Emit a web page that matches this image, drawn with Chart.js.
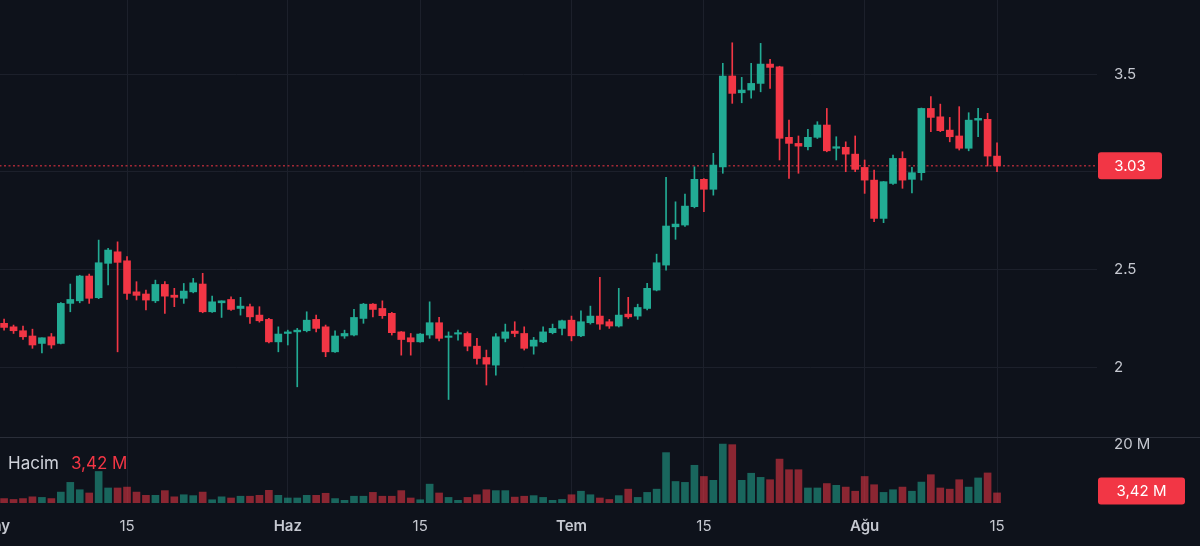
<!DOCTYPE html>
<html>
<head>
<meta charset="utf-8">
<script src="https://cdn.jsdelivr.net/npm/chart.js@4.4.1/dist/chart.umd.min.js"></script>
<style>
  html, body { margin: 0; padding: 0; background: #0e121b; width: 1200px; height: 546px; overflow: hidden; position: relative; }
  canvas { position: absolute; left: -50px; }
  #priceChart { top: 0; }
  #volChart { top: 437px; }
  #sep { position: absolute; left: 0; top: 437px; width: 1200px; height: 1px; background: #2a2e39; }
</style>
</head>
<body>
<canvas id="priceChart" width="1250" height="437"></canvas>
<canvas id="volChart" width="1250" height="109"></canvas>
<div id="sep"></div>
<script>
// daily candles, 2 May .. 15 Aug
const opens = [
  2.224, 2.206, 2.186, 2.159, 2.121, 2.155, 2.121, 2.326, 2.339, 2.466, 2.355, 2.531, 2.590, 2.544, 2.385,
  2.374, 2.339, 2.423, 2.368, 2.352, 2.385, 2.425, 2.283, 2.329, 2.346, 2.300, 2.309, 2.266, 2.244, 2.129,
  2.172, 2.180, 2.186, 2.244, 2.206, 2.078, 2.159, 2.164, 2.249, 2.322, 2.300, 2.275, 2.180, 2.150, 2.129,
  2.164, 2.227, 2.152, 2.169, 2.172, 2.107, 2.049, 2.010, 2.147, 2.184, 2.172, 2.107, 2.129, 2.176, 2.198,
  2.240, 2.160, 2.227, 2.261, 2.232, 2.210, 2.271, 2.261, 2.300, 2.394, 2.522, 2.718, 2.727, 2.821, 2.961,
  2.910, 3.025, 3.490, 3.404, 3.418, 3.452, 3.551, 3.537, 3.176, 3.145, 3.128, 3.176, 3.239, 3.120, 3.125,
  3.090, 3.022, 2.957, 2.761, 2.940, 3.068, 2.961, 2.995, 3.324, 3.281, 3.213, 3.183, 3.120, 3.264, 3.268,
  3.080
];
const highs = [
  2.246, 2.215, 2.210, 2.194, 2.150, 2.172, 2.330, 2.425, 2.470, 2.476, 2.650, 2.608, 2.641, 2.565, 2.437,
  2.394, 2.445, 2.437, 2.403, 2.428, 2.454, 2.480, 2.363, 2.339, 2.360, 2.357, 2.322, 2.309, 2.249, 2.206,
  2.189, 2.198, 2.283, 2.266, 2.215, 2.186, 2.189, 2.295, 2.326, 2.325, 2.339, 2.280, 2.182, 2.172, 2.172,
  2.334, 2.254, 2.180, 2.189, 2.180, 2.147, 2.087, 2.172, 2.220, 2.232, 2.206, 2.152, 2.206, 2.220, 2.240,
  2.261, 2.288, 2.312, 2.459, 2.244, 2.403, 2.357, 2.322, 2.428, 2.578, 2.971, 2.846, 2.886, 3.025, 2.965,
  3.094, 3.555, 3.660, 3.483, 3.555, 3.657, 3.575, 3.540, 3.264, 3.183, 3.217, 3.256, 3.324, 3.179, 3.153,
  3.183, 3.060, 3.008, 2.950, 3.085, 3.102, 3.022, 3.326, 3.384, 3.346, 3.278, 3.333, 3.302, 3.324, 3.299,
  3.148
];
const lows = [
  2.189, 2.172, 2.142, 2.096, 2.073, 2.096, 2.118, 2.283, 2.329, 2.326, 2.350, 2.420, 2.078, 2.346, 2.343,
  2.292, 2.330, 2.275, 2.309, 2.326, 2.380, 2.278, 2.280, 2.254, 2.290, 2.266, 2.224, 2.230, 2.124, 2.078,
  2.113, 1.899, 2.180, 2.180, 2.053, 2.075, 2.147, 2.160, 2.224, 2.257, 2.249, 2.164, 2.061, 2.061, 2.127,
  2.147, 2.134, 1.834, 2.138, 2.083, 2.015, 1.908, 1.959, 2.129, 2.155, 2.087, 2.066, 2.125, 2.170, 2.164,
  2.134, 2.155, 2.220, 2.193, 2.198, 2.205, 2.249, 2.244, 2.292, 2.390, 2.496, 2.654, 2.720, 2.815, 2.795,
  2.880, 2.992, 3.350, 3.353, 3.376, 3.409, 3.427, 3.060, 2.966, 2.992, 3.111, 3.170, 3.102, 3.060, 3.000,
  3.000, 2.889, 2.744, 2.739, 2.935, 2.915, 2.892, 2.957, 3.205, 3.205, 3.153, 3.111, 3.107, 3.179, 3.029,
  3.000
];
const closes = [
  2.203, 2.186, 2.155, 2.113, 2.150, 2.113, 2.326, 2.346, 2.466, 2.352, 2.534, 2.599, 2.536, 2.377, 2.367,
  2.343, 2.423, 2.363, 2.357, 2.389, 2.431, 2.283, 2.334, 2.339, 2.295, 2.312, 2.257, 2.237, 2.129, 2.169,
  2.180, 2.189, 2.240, 2.198, 2.078, 2.159, 2.172, 2.254, 2.322, 2.295, 2.263, 2.176, 2.141, 2.129, 2.169,
  2.227, 2.147, 2.159, 2.176, 2.107, 2.044, 2.015, 2.155, 2.180, 2.172, 2.096, 2.138, 2.180, 2.198, 2.237,
  2.160, 2.232, 2.261, 2.220, 2.210, 2.266, 2.257, 2.305, 2.403, 2.534, 2.722, 2.732, 2.824, 2.961, 2.910,
  3.034, 3.490, 3.401, 3.418, 3.452, 3.551, 3.534, 3.171, 3.145, 3.131, 3.176, 3.239, 3.107, 3.128, 3.090,
  3.012, 2.957, 2.761, 2.949, 3.068, 2.957, 2.995, 3.324, 3.278, 3.210, 3.179, 3.120, 3.264, 3.273, 3.080,
  3.030
];
// volume, millions
const volumes = [
  1.5, 1.2, 1.5, 2.1, 1.9, 1.5, 3.7, 7.0, 4.5, 3.4, 10.7, 5.1, 5.1, 5.4, 3.7,
  2.6, 2.6, 4.2, 2.1, 2.8, 2.5, 3.7, 1.1, 2.1, 1.7, 2.3, 2.3, 2.6, 4.3, 2.6,
  1.7, 1.7, 2.6, 2.6, 3.3, 1.5, 0.9, 2.3, 2.3, 3.6, 2.3, 2.3, 4.2, 1.7, 1.1,
  6.4, 3.4, 1.9, 0.9, 1.9, 2.8, 4.5, 4.2, 4.2, 2.0, 2.3, 2.5, 1.9, 0.9, 1.2,
  2.8, 4.0, 2.8, 1.7, 1.2, 2.5, 4.7, 1.9, 3.6, 4.7, 17.1, 7.3, 7.0, 12.8, 9.0,
  7.7, 20.0, 19.8, 7.7, 10.1, 8.7, 7.9, 14.9, 11.3, 11.3, 5.1, 5.1, 6.6, 6.0, 5.4,
  4.0, 9.0, 6.2, 3.6, 4.5, 5.4, 4.0, 7.1, 9.6, 5.1, 4.7, 7.9, 5.4, 8.5, 10.2,
  3.42
];
// day number counted from 1 May
const days = opens.map((_, i) => i + 1);
const tickDays = [0, 14, 31, 45, 61, 75, 92, 106];
const tickLabels = ['May', '15', 'Haz', '15', 'Tem', '15', 'Ağu', '15'];
const priceTicks = [2, 2.5, 3, 3.5];
const volTicks = [20];

const UP = '#22ab94', DOWN = '#f23645';
const UP_VOL = 'rgba(34,171,148,0.55)', DOWN_VOL = 'rgba(242,54,69,0.55)';
const GRID = '#1c202b', TEXT = '#c5c8d0';
const X_MIN = -4.72, X_MAX = 116.57;

Chart.defaults.font.family = 'Inter, "Noto Sans", sans-serif';
Chart.defaults.font.size = 15;
Chart.defaults.color = TEXT;
Chart.defaults.animation = false;
Chart.defaults.plugins.legend.display = false;
Chart.defaults.plugins.tooltip.enabled = false;

const last = closes.length - 1;
const isUp = i => closes[i] >= opens[i];
const candleColors = days.map((_, i) => isUp(i) ? UP : DOWN);
const volColors = days.map((_, i) => isUp(i) ? UP_VOL : DOWN_VOL);

function badge(ctx, x, y, w, text, color) {
  ctx.save();
  ctx.fillStyle = color;
  ctx.beginPath();
  ctx.roundRect(x, y - 13.5, w, 27, 3);
  ctx.fill();
  ctx.fillStyle = '#ffffff';
  ctx.font = '15px Inter, "Noto Sans", sans-serif';
  ctx.textAlign = 'center';
  ctx.textBaseline = 'middle';
  ctx.fillText(text, x + w / 2, y + 1);
  ctx.restore();
}

// no extra room around the plot for tick labels
const noPad = s => { s.paddingTop = 0; s.paddingBottom = 0; s.paddingLeft = 0; s.paddingRight = 0; };

function xScale(showLabels) {
  return {
    type: 'linear',
    min: X_MIN,
    max: X_MAX,
    offset: false,
    afterBuildTicks: s => { s.ticks = tickDays.map(v => ({ value: v })); },
    grid: { color: GRID, drawTicks: false, offset: false },
    border: { display: false },
    ticks: {
      display: showLabels,
      autoSkip: false,
      maxRotation: 0,
      padding: 14,
      callback: (v, i) => tickLabels[i],
      font: c => ({ size: 15, weight: /\d/.test(tickLabels[c.index]) ? '400' : '600' })
    },
    afterFit: s => { s.height = showLabels ? 43 : 0; noPad(s); }
  };
}

function yScale(min, max, ticks, fmt, grid) {
  return {
    position: 'right',
    min: min,
    max: max,
    afterBuildTicks: s => { s.ticks = ticks.map(v => ({ value: v })); },
    grid: { display: grid, color: GRID, drawTicks: false },
    border: { display: false },
    ticks: { padding: 17, callback: fmt },
    afterFit: s => { s.width = 103; noPad(s); }
  };
}

const fmtVol = v => v.toFixed(2).replace('.', ',') + ' M';

new Chart(document.getElementById('priceChart'), {
  type: 'bar',
  data: {
    datasets: [
      {
        type: 'line',
        data: [{ x: X_MIN, y: closes[last] }, { x: X_MAX, y: closes[last] }],
        borderColor: candleColors[last],
        borderWidth: 1,
        borderDash: [2, 2.5],
        pointRadius: 0,
        order: 3
      },
      {
        data: days.map((d, i) => ({ x: d, y: [lows[i], highs[i]] })),
        backgroundColor: candleColors,
        barThickness: 1,
        grouped: false,
        order: 2
      },
      {
        data: days.map((d, i) => ({ x: d, y: [opens[i], closes[i]] })),
        backgroundColor: candleColors,
        barThickness: 7,
        minBarLength: 1,
        grouped: false,
        order: 1
      }
    ]
  },
  options: {
    responsive: false,
    layout: { padding: 0 },
    scales: {
      x: xScale(false),
      y: yScale(1.642, 3.879, priceTicks, v => String(v), true)
    }
  },
  plugins: [{
    id: 'lastPrice',
    afterDraw(chart) {
      const y = chart.scales.y.getPixelForValue(closes[last]);
      badge(chart.ctx, chart.chartArea.right + 1, y, 64, closes[last].toFixed(2), candleColors[last]);
    }
  }]
});

new Chart(document.getElementById('volChart'), {
  type: 'bar',
  data: {
    datasets: [{
      data: days.map((d, i) => ({ x: d, y: volumes[i] })),
      backgroundColor: volColors,
      barThickness: 7,
      grouped: false
    }]
  },
  options: {
    responsive: false,
    layout: { padding: 0 },
    scales: {
      x: xScale(true),
      y: yScale(0, 22.4, volTicks, v => v + ' M', false)
    }
  },
  plugins: [{
    id: 'volLegend',
    afterDraw(chart) {
      const ctx = chart.ctx;
      const y = chart.scales.y.getPixelForValue(volumes[last]);
      badge(ctx, chart.chartArea.right + 1, y - 2, 87, fmtVol(volumes[last]), candleColors[last]);
      ctx.save();
      ctx.font = '17px Inter, "Noto Sans", sans-serif';
      ctx.textBaseline = 'middle';
      ctx.fillStyle = '#d1d4dc';
      ctx.fillText('Hacim', 58, 27);
      const w = ctx.measureText('Hacim').width;
      ctx.fillStyle = candleColors[last];
      ctx.fillText(fmtVol(volumes[last]), 58 + w + 12, 27);
      ctx.restore();
    }
  }]
});
</script>
</body>
</html>
